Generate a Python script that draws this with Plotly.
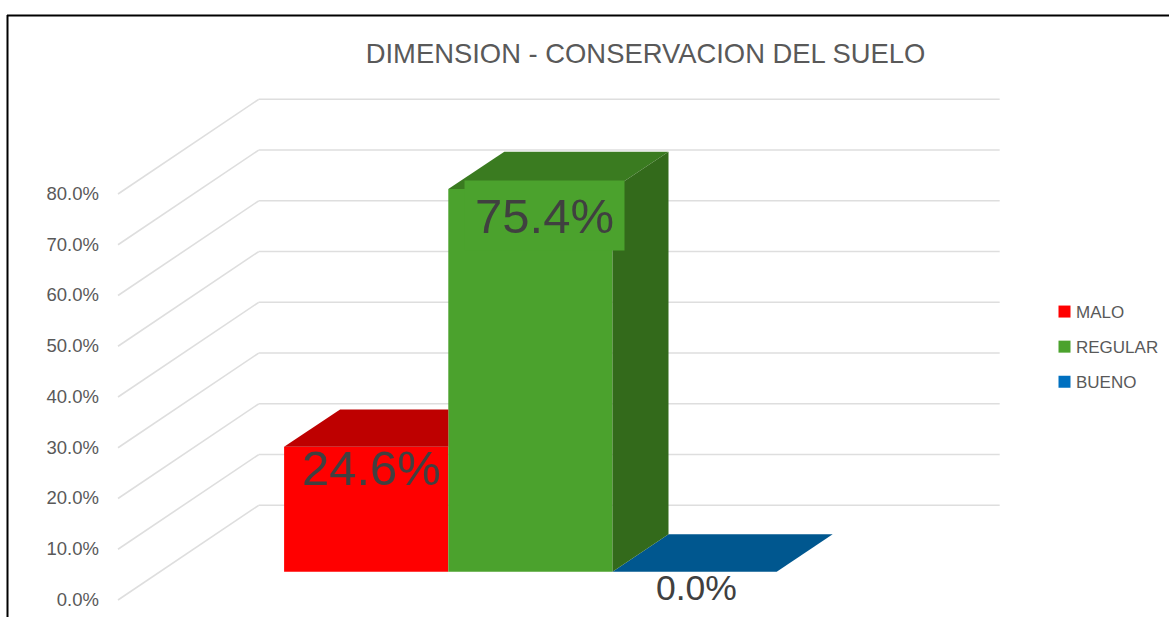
import plotly.graph_objects as go

# ---- data ----
TITLE = "DIMENSION - CONSERVACION DEL SUELO"
categories = ["MALO", "REGULAR", "BUENO"]
values = [24.6, 75.4, 0.0]
labels = ["24.6%", "75.4%", "0.0%"]
tick_values = [0, 10, 20, 30, 40, 50, 60, 70, 80]
tick_labels = ["0.0%", "10.0%", "20.0%", "30.0%", "40.0%", "50.0%", "60.0%", "70.0%", "80.0%"]

# ---- styles ----
FONT = "Liberation Sans"
front_colors = ["#FF0000", "#4BA22D", "#0070C0"]
top_colors = ["#BE0000", "#3A7B20", "#00578F"]
side_colors = ["#A00000", "#336A1B", "#004A7A"]
label_sizes = [49, 49, 35.5]
label_xshift = [5, 14.5, 2]
label_yshift = [-21, -26.5, -16]
label_boxes = [None, "#4BA22D", None]
TEXT = "#404040"
TICK_TEXT = "#595959"

# ---- pseudo-3D scale (pixels to data) ----
W, H = 1169, 617
PX_CAT = 164.2          # px per category
PX_PCT = 5.075          # px per percentage point
X0_PX, Y0_PX = 366.2, 571.7
BAR_DX = 56 / PX_CAT    # bar depth in category units
BAR_DY = 37.4 / PX_PCT  # bar depth in percent units
WALL_FRONT_X = (118 - X0_PX) / PX_CAT
WALL_BACK_X = (258.7 - X0_PX) / PX_CAT
WALL_END_X = (999.7 - X0_PX) / PX_CAT
WALL_FRONT_Y = (Y0_PX - 600) / PX_PCT
WALL_BACK_Y = (Y0_PX - 505.3) / PX_PCT

x_range = [(0 - X0_PX) / PX_CAT, (W - X0_PX) / PX_CAT]
y_range = [(Y0_PX - H) / PX_PCT, Y0_PX / PX_PCT]

fig = go.Figure()


def polygon(xs, ys, color):
    fig.add_trace(go.Scatter(x=xs, y=ys, mode="lines", fill="toself", fillcolor=color,
                             line=dict(width=0, color=color), showlegend=False,
                             hoverinfo="skip"))


# top and side faces, hidden parts cut away at the next taller bar
for i, v in enumerate(values):
    left, right = i - 0.5, i + 0.5
    blocked = i + 1 < len(values) and values[i + 1] > v
    if blocked:
        polygon([left, left + BAR_DX, right, right, left],
                [v, v + BAR_DY, v + BAR_DY, v, v], top_colors[i])
    else:
        polygon([left, left + BAR_DX, right + BAR_DX, right, left],
                [v, v + BAR_DY, v + BAR_DY, v, v], top_colors[i])
for i, v in enumerate(values):
    if v > 0 and not (i + 1 < len(values) and values[i + 1] > v):
        right = i + 0.5
        polygon([right, right + BAR_DX, right + BAR_DX, right, right],
                [0, BAR_DY, v + BAR_DY, v, 0], side_colors[i])

# front faces
for i, v in enumerate(values):
    fig.add_trace(go.Bar(x=[i], y=[v], width=1.0, name=categories[i], legendgroup=categories[i],
                         marker=dict(color=front_colors[i], line=dict(width=0)), hoverinfo="skip"))

# carrier for the value axis
fig.add_trace(go.Scatter(x=[None], y=[None], yaxis="y2", showlegend=False, hoverinfo="skip"))

# wall and floor-side gridlines
shapes = []
for t in tick_values:
    xs = [WALL_FRONT_X, WALL_BACK_X, WALL_END_X]
    ys = [WALL_FRONT_Y + t, WALL_BACK_Y + t, WALL_BACK_Y + t]
    for a in range(2):
        shapes.append(dict(type="line", xref="x", yref="y", layer="below",
                           x0=xs[a], y0=ys[a], x1=xs[a + 1], y1=ys[a + 1],
                           line=dict(color="#DEDEDE", width=1.6)))

# outer frame (top and left edges are visible)
shapes.append(dict(type="line", xref="paper", yref="paper", x0=7 / W, x1=1, y0=1 - 15.5 / H, y1=1 - 15.5 / H,
                   line=dict(color="#000000", width=2)))
shapes.append(dict(type="line", xref="paper", yref="paper", x0=7.5 / W, x1=7.5 / W, y0=0, y1=1 - 15 / H,
                   line=dict(color="#000000", width=2)))

annotations = []
for i, v in enumerate(values):
    a = dict(x=i, y=v, xref="x", yref="y", text=labels[i], showarrow=False,
             xshift=label_xshift[i], yshift=label_yshift[i], xanchor="center", yanchor="middle",
             font=dict(family=FONT, size=label_sizes[i], color=TEXT))
    if label_boxes[i]:
        a.update(bgcolor=label_boxes[i], width=159, height=69, borderpad=0)
    annotations.append(a)

fig.update_layout(
    width=W, height=H, margin=dict(l=0, r=0, t=0, b=0),
    paper_bgcolor="#FFFFFF", plot_bgcolor="#FFFFFF",
    barmode="overlay", shapes=shapes, annotations=annotations,
    title=dict(text=TITLE, x=645.5 / W, xanchor="center", xref="paper",
               y=1 - 53.5 / H, yanchor="middle", yref="paper",
               font=dict(family=FONT, size=27.4, color="#595959")),
    xaxis=dict(range=x_range, visible=False, fixedrange=True),
    yaxis=dict(range=y_range, visible=False, fixedrange=True),
    yaxis2=dict(overlaying="y", side="left", anchor="free", position=99 / W,
                range=[(599.5 - H) / PX_PCT, 599.5 / PX_PCT],
                tickvals=tick_values, ticktext=tick_labels, showgrid=False, zeroline=False,
                showline=False, ticks="", fixedrange=True,
                tickfont=dict(family=FONT, size=18.5, color=TICK_TEXT)),
    legend=dict(x=1036 / W, xanchor="left", y=1 - 294 / H, yanchor="top", traceorder="grouped",
                tracegroupgap=10, bgcolor="rgba(0,0,0,0)",
                font=dict(family=FONT, size=17, color=TICK_TEXT)),
)

# the legend swatches sit closer to their labels in the reference
post = """
var gd = document.getElementById('{plot_id}');
function nudge() {
  document.querySelectorAll('.legendsymbols').forEach(function (e) {
    e.setAttribute('transform', 'translate(8.5,0)');
    e.style.transform = 'translate(8.5px,0)';
  });
}
document.body.style.margin = '0';
document.body.style.overflow = 'hidden';
nudge();
if (gd.on) gd.on('plotly_afterplot', nudge);
setTimeout(nudge, 50);
"""
fig.write_html("out.html", config={"displayModeBar": False}, post_script=post)
